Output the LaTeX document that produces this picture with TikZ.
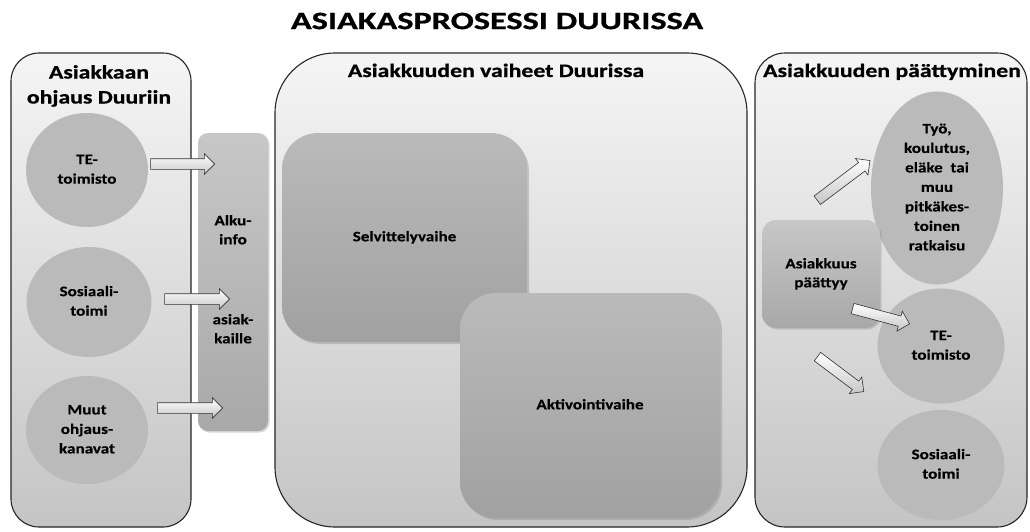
\documentclass[tikz,border=0pt]{standalone}
\usepackage{fontspec}
\usepackage{graphicx}
\setmainfont{Carlito}[BoldFeatures={FakeBold=0.25}]
\newfontfamily\hfont{Carlito}[BoldFeatures={FakeBold=0.7}]
\usetikzlibrary{shapes.geometric,shapes.arrows,shadows,calc}
\newcommand\stx[1]{\scalebox{1.18}[1]{\begin{tabular}{@{}c@{}}#1\end{tabular}}}
\newcommand\htx[1]{\scalebox{1.25}[1]{\begin{tabular}{@{}c@{}}#1\end{tabular}}}
\begin{document}
\begin{tikzpicture}[x=1pt,y=-1pt,
  panel/.style={draw=black!85, line width=1.1pt, top color=black!4, bottom color=black!23, inner sep=0pt},
  bubble/.style={ellipse, fill=black!27, inner sep=0pt, font=\fontsize{14.5}{19.5}\selectfont\bfseries},
  phase/.style={rounded corners=36pt, top color=black!27, bottom color=black!37, inner sep=0pt,
    drop shadow={shadow xshift=2pt, shadow yshift=-2pt, opacity=0.35},
    font=\fontsize{14.5}{19}\selectfont\bfseries},
  bar/.style={top color=black!22, bottom color=black!34, inner sep=0pt,
    drop shadow={shadow xshift=1.5pt, shadow yshift=-1.5pt, opacity=0.3},
    font=\fontsize{14.5}{19}\selectfont\bfseries},
  barrow/.style={single arrow, draw=black!80, line width=0.6pt, top color=white, bottom color=black!22,
    minimum width=20pt, inner sep=5pt, single arrow head extend=5pt, single arrow tip angle=90},
  ptitle/.style={font=\hfont\fontsize{19}{25}\selectfont\bfseries, inner sep=0pt}
]
\useasboundingbox[fill=white] (0,0) rectangle (1030,531);

% main title
\node[font=\hfont\fontsize{25}{28}\selectfont\bfseries, inner sep=0pt] (title) at (497,21) {\scalebox{1.37}[1]{ASIAKASPROSESSI DUURISSA}};

% panels
\node[panel, rounded corners=28pt, minimum width=180pt, minimum height=474pt] (lp) at (101,290) {};
\node[panel, rounded corners=60pt, minimum width=472pt, minimum height=474pt] (mp) at (511,290) {};
\node[panel, rounded corners=30pt, minimum width=272pt, minimum height=474pt] (rp) at (891,290) {};

% panel titles
\node[ptitle] (lpt) at (99,86) {\htx{Asiakkaan\\ohjaus Duuriin}};
\node[ptitle] (mpt) at (496,72) {\htx{Asiakkuuden vaiheet Duurissa}};
\node[ptitle] (rpt) at (892,72) {\htx{Asiakkuuden päättyminen}};

% left bubbles
\node[bubble, minimum width=122pt, minimum height=114pt] (te1) at (87,170) {\stx{TE-\\toimisto}};
\node[bubble, minimum width=125pt, minimum height=110pt] (so1) at (89,302) {\stx{Sosiaali-\\toimi}};
\node[bubble, minimum width=122pt, minimum height=108pt] (mu1) at (87,430) {\stx{Muut\\ohjaus-\\kanavat}};

% Alku-info bar
\node[bar, rounded corners=10pt, minimum width=70pt, minimum height=298pt] (alku) at (233,282) {};
\node[font=\fontsize{14.5}{19}\selectfont\bfseries, inner sep=0pt] (alkut) at (233,231) {\stx{Alku-\\info}};
\node[font=\fontsize{14.5}{19}\selectfont\bfseries, inner sep=0pt] (asit) at (233,330) {\stx{asiak-\\kaille}};

% left arrows
\node[barrow, minimum height=64pt] (l1) at (180,164) {};
\node[barrow, minimum height=65pt] (l2) at (194.5,299) {};
\node[barrow, minimum height=65pt] (l3) at (187.5,408) {};

% phases
\node[phase, minimum width=245pt, minimum height=209pt] (selv) at (404.5,237.5) {\stx{Selvittelyvaihe}};
\node[phase, minimum width=260pt, minimum height=225pt] (akt) at (590,405.5) {\stx{Aktivointivaihe}};

% right side
\node[bubble, minimum width=132pt, minimum height=166pt] (tyo) at (937,188) {\stx{Työ,\\koulutus,\\eläke\ \ tai\\muu\\pitkäkes-\\toinen\\ratkaisu}};
\node[bubble, minimum width=127pt, minimum height=115pt] (te2) at (941,346) {\stx{TE-\\toimisto}};
\node[bubble, minimum width=127pt, minimum height=110pt] (so2) at (941,465) {\stx{Sosiaali-\\toimi}};
\node[bar, rounded corners=14pt, minimum width=118pt, minimum height=108pt] (loppu) at (821,274) {\stx{Asiakkuus\\päättyy}};

% right arrows
\node[barrow, minimum height=66pt, rotate=37] (r1) at (841.5,182) {};
\node[barrow, minimum height=59pt, rotate=-15] (r2) at (878.5,315.5) {};
\node[barrow, minimum height=58pt, rotate=-37] (r3) at (838.5,372.5) {};
\end{tikzpicture}
\end{document}
